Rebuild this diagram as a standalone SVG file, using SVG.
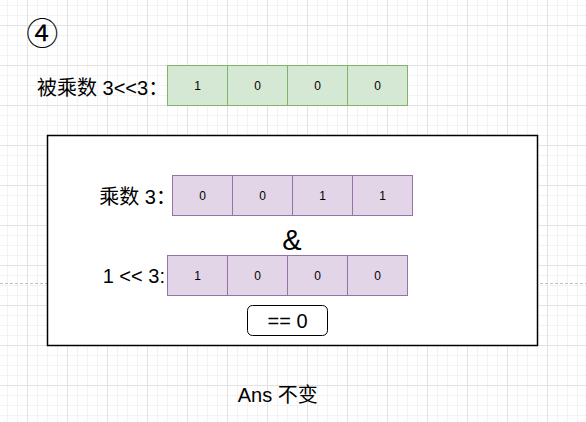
<svg xmlns="http://www.w3.org/2000/svg" width="586" height="422" viewBox="0 0 586 422">
<defs>
<pattern id="grid" x="27" y="25" width="40" height="40" patternUnits="userSpaceOnUse">
<rect width="40" height="40" fill="#ffffff"/>
<path d="M10.5 0V40M20.5 0V40M30.5 0V40M0 10.5H40M0 20.5H40M0 30.5H40" stroke="#f3f3f3" stroke-width="1" fill="none"/>
<path d="M0.5 0V40M0 0.5H40" stroke="#e2e2e2" stroke-width="1" fill="none"/>
</pattern>
</defs>
<style>
.t{font-family:"Liberation Sans","Noto Sans CJK SC",sans-serif;fill:#000}
.lbl{font-size:20px}
.cell-t{font-size:12px;text-anchor:middle}
.g{fill:#d5e8d4;stroke:#82b366;stroke-width:1}
.p{fill:#e1d5e7;stroke:#9673a6;stroke-width:1}
</style>
<rect width="586" height="422" fill="url(#grid)"/>
<line x1="0" y1="283.5" x2="586" y2="283.5" stroke="#c0c0c0" stroke-width="1" stroke-dasharray="3 2"/>

<g id="num">
<text class="t" x="42.3" y="44.5" font-size="32" text-anchor="middle" style="font-family:'Noto Sans CJK SC',sans-serif">④</text>
</g>

<g id="label-multiplicand">
<text class="t lbl" x="37" y="95">被乘数 3&lt;&lt;3：</text>
</g>
<g id="row-multiplicand">
<rect class="g" x="167.5" y="65.5" width="60" height="40"/>
<rect class="g" x="227.5" y="65.5" width="60" height="40"/>
<rect class="g" x="287.5" y="65.5" width="60" height="40"/>
<rect class="g" x="347.5" y="65.5" width="60" height="40"/>
<text class="t cell-t" x="197.5" y="89.8">1</text>
<text class="t cell-t" x="257.5" y="89.8">0</text>
<text class="t cell-t" x="317.5" y="89.8">0</text>
<text class="t cell-t" x="377.5" y="89.8">0</text>
</g>

<g id="box">
<rect x="47.5" y="135.5" width="490" height="210" fill="#ffffff" stroke="#000000" stroke-width="1.5"/>
</g>

<g id="label-multiplier">
<text class="t lbl" x="99.3" y="204">乘数 3：</text>
</g>
<g id="row-multiplier">
<rect class="p" x="172.5" y="175.5" width="60" height="40"/>
<rect class="p" x="232.5" y="175.5" width="60" height="40"/>
<rect class="p" x="292.5" y="175.5" width="60" height="40"/>
<rect class="p" x="352.5" y="175.5" width="60" height="40"/>
<text class="t cell-t" x="202.5" y="199.8">0</text>
<text class="t cell-t" x="262.5" y="199.8">0</text>
<text class="t cell-t" x="322.5" y="199.8">1</text>
<text class="t cell-t" x="382.5" y="199.8">1</text>
</g>

<g id="and">
<text class="t" x="292" y="250" font-size="29" text-anchor="middle">&amp;</text>
</g>

<g id="label-mask">
<text class="t lbl" x="102.7" y="283.3">1 &lt;&lt; 3:</text>
</g>
<g id="row-mask">
<rect class="p" x="167.5" y="255.5" width="60" height="40"/>
<rect class="p" x="227.5" y="255.5" width="60" height="40"/>
<rect class="p" x="287.5" y="255.5" width="60" height="40"/>
<rect class="p" x="347.5" y="255.5" width="60" height="40"/>
<text class="t cell-t" x="197.5" y="279.8">1</text>
<text class="t cell-t" x="257.5" y="279.8">0</text>
<text class="t cell-t" x="317.5" y="279.8">0</text>
<text class="t cell-t" x="377.5" y="279.8">0</text>
</g>

<g id="result">
<rect x="247.5" y="305.5" width="80" height="30" rx="5" ry="5" fill="#ffffff" stroke="#000000" stroke-width="1"/>
<text class="t lbl" x="287.5" y="327.5" text-anchor="middle">== 0</text>
</g>

<g id="answer">
<text class="t lbl" x="237.7" y="402.3">Ans 不变</text>
</g>
</svg>
